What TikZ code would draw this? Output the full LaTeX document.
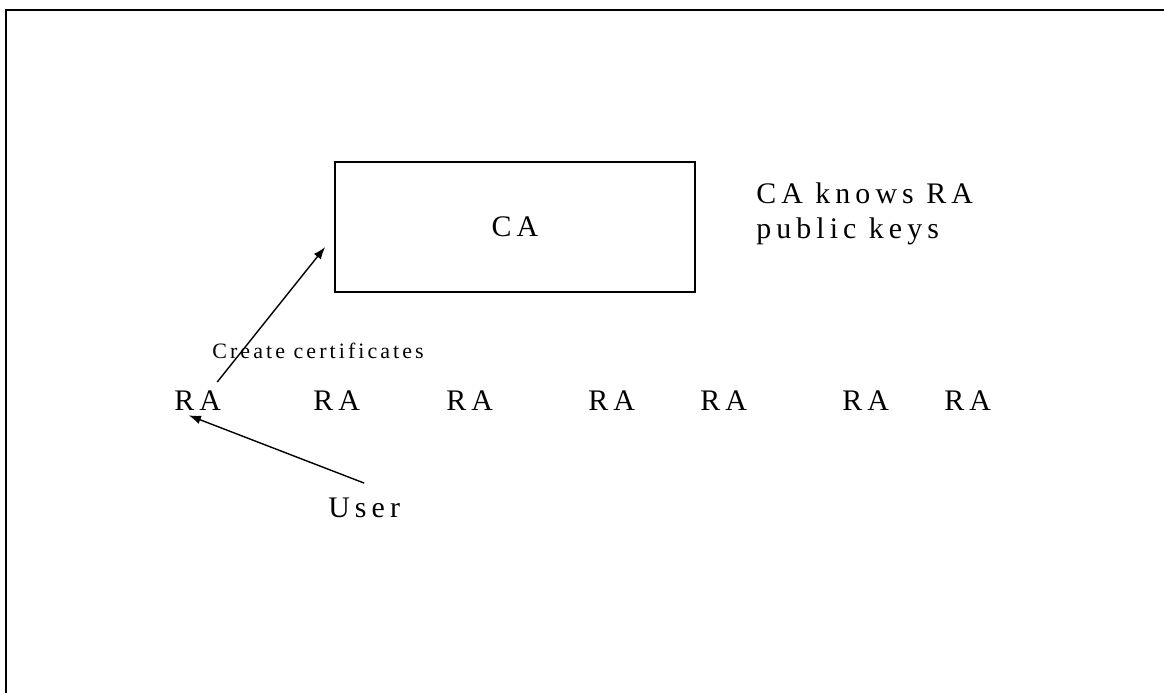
\documentclass[tikz,border=0pt]{standalone}
\usepackage{fontspec}
\setmainfont[LetterSpace=17]{Liberation Serif}
\newfontfamily\certfont[LetterSpace=14]{Liberation Serif}
\usetikzlibrary{calc, arrows.meta}

\begin{document}
\begin{tikzpicture}[x=0.02cm, y=-0.02cm,
  big text/.style={inner sep=0pt, font=\fontsize{17}{20}\selectfont},
  small text/.style={inner sep=0pt, font=\certfont\fontsize{12.5}{15}\selectfont},
  link/.style={line width=0.8pt, -{Latex[length=7pt,width=5pt]}}]
  \useasboundingbox (0,0) rectangle (1164,693);
  % frame (top and left edge only)
  \draw[line width=1.5pt] (6,693) -- (6,10) -- (1164,10);
  \node[draw, line width=1pt, minimum width=7.2cm, minimum height=2.6cm, big text] (ca) at (515,227) {CA};
  \node[big text, anchor=north west, align=left] (note) at (756,182) {CA knows RA\\public keys};
  \foreach \x [count=\i] in {174,313,446,588,700,842,944}
    \node[big text, anchor=base west] (ra\i) at (\x,410) {RA};
  \node[small text, anchor=base west] (cert) at (212,358) {Create certificates};
  \node[big text, anchor=base west] (user) at (328,517) {User};
  \draw[link] ($(ra1.north east)+(-4,-8)$) -- ($(ca.west)+(-9,20)$);
  \draw[link] ($(user.north)+(0,-14)$) -- ($(ra1.south)+(-9,5)$);
\end{tikzpicture}
\end{document}
